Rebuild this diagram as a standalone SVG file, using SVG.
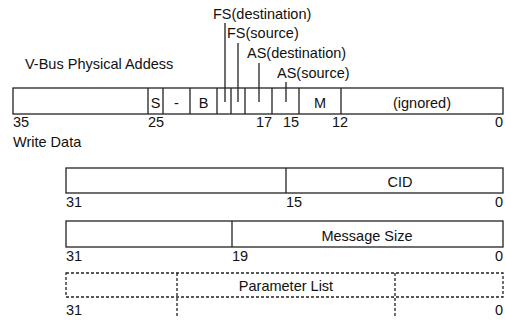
<svg xmlns="http://www.w3.org/2000/svg" width="505" height="321" viewBox="0 0 505 321">
<style>
text{font-family:"Liberation Sans",Arial,sans-serif;font-size:14.5px;fill:#111}
.c{text-anchor:middle}
.e{text-anchor:end}
.box{fill:#fff;stroke:#222;stroke-width:1.3}
.ln{stroke:#222;stroke-width:1.3;fill:none}
.d{stroke:#222;stroke-width:1.3;fill:none;stroke-dasharray:3 2}
</style>
<rect width="505" height="321" fill="#fff"/>
<g id="title-vbus"><text x="25" y="69">V-Bus Physical Addess</text></g>
<g id="callouts">
<text x="213" y="19">FS(destination)</text>
<text x="227" y="38">FS(source)</text>
<text x="247" y="58">AS(destination)</text>
<text x="277" y="78">AS(source)</text>
</g>
<g id="vbus-bar">
<rect class="box" x="13" y="88" width="490" height="26"/>
<path class="ln" d="M148 88V114M163 88V114M190 88V114M217 88V114M231 88V114M245 88V114M272 88V114M299 88V114M341 88V114"/>
<text class="c" x="155.5" y="108">S</text>
<text class="c" x="176.5" y="108">-</text>
<text class="c" x="203.5" y="108">B</text>
<text class="c" x="320" y="108">M</text>
<text class="c" x="422" y="108">(ignored)</text>
<text x="13" y="127">35</text>
<text x="148" y="127">25</text>
<text x="256" y="127">17</text>
<text x="283" y="127">15</text>
<text x="332" y="127">12</text>
<text class="e" x="503" y="127">0</text>
</g>
<g id="connectors">
<path class="ln" d="M225 23V102M238 43V102M259 63V102M286 82V102"/>
</g>
<g id="title-write"><text x="13" y="147">Write Data</text></g>
<g id="cid-word">
<rect class="box" x="66" y="168" width="437" height="25"/>
<path class="ln" d="M286 168V193"/>
<text class="c" x="400" y="187">CID</text>
<text x="66" y="207">31</text>
<text x="286" y="207">15</text>
<text class="e" x="503" y="207">0</text>
</g>
<g id="size-word">
<rect class="box" x="66" y="221" width="437" height="26"/>
<path class="ln" d="M232 221V247"/>
<text class="c" x="367" y="241">Message Size</text>
<text x="66" y="261">31</text>
<text x="232" y="261">19</text>
<text class="e" x="503" y="261">0</text>
</g>
<g id="param-word">
<rect class="d" x="66" y="273" width="437" height="24" fill="none"/>
<path class="d" d="M177 273V316M395 273V316"/>
<text class="c" x="286" y="291">Parameter List</text>
<text x="66" y="315">31</text>
<text class="e" x="503" y="315">0</text>
</g>
</svg>
